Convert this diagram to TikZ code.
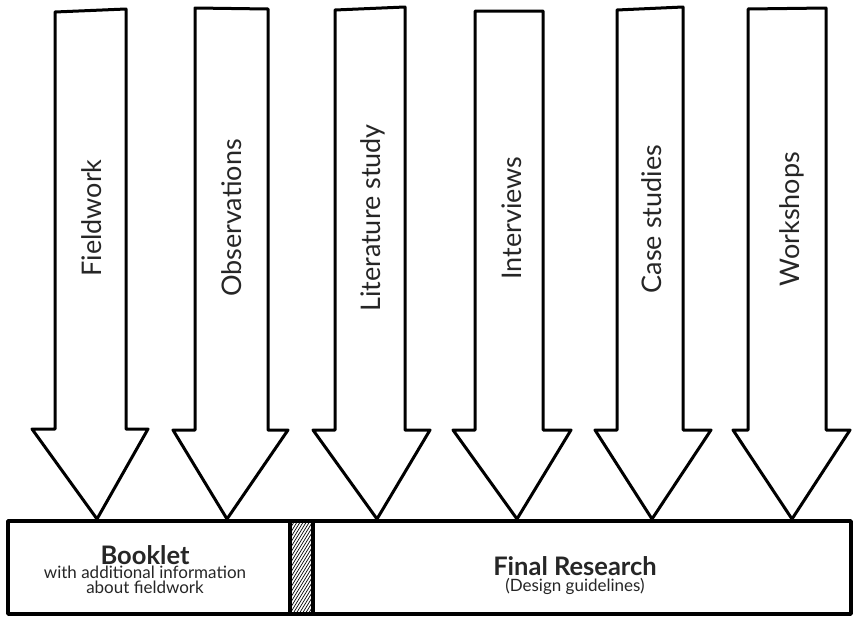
\documentclass[tikz,border=0pt]{standalone}
\usepackage{fontspec}
\setmainfont{Lato}
\begin{document}
\begin{tikzpicture}[x=1pt,y=-1pt,
  arrowline/.style={draw=black,line width=3pt,line join=round,line cap=round,fill=white},
  boxline/.style={draw=black,line width=3.5pt,line join=round},
  hatchline/.style={draw=black,line width=0.7pt},
  lbl/.style={rotate=90,font=\fontsize{27}{30}\selectfont,text=black!85,inner sep=0pt},
  boxtext/.style={text=black!85,inner sep=0pt,anchor=north,align=center}]
\useasboundingbox (0,0) rectangle (854,616);
\fill[white] (0,0) rectangle (854,616);

% arrows: L R Ttl Ttr S HL HR X
\foreach \L/\R/\Ta/\Tb/\S/\HL/\HR/\X/\n in {
  55/126/12/9/429/32/148/97/1,
  195/268/8/9/430/173/288/227/2,
  335/405/10/7/430/313/430/377/3,
  475/543/11/11/430/453/571/517/4,
  617/683/10/7/430/595/711/652/5,
  748/826/9/8/430/733/850/792/6}{
  \coordinate (tip\n) at (\X,519);
  \draw[arrowline] (\L,\S) -- (\L,\Ta) -- (\R,\Tb) -- (\R,\S) -- (\HR,\S) -- (tip\n) -- (\HL,\S) -- cycle;
}

% labels
\node[lbl] (l1) at (92,218) {Fieldwork};
\node[lbl] (l2) at (232,218) {Observations};
\node[lbl] (l3) at (373,218) {Literature study};
\node[lbl] (l4) at (512,218) {Interviews};
\node[lbl] (l5) at (652,219) {Case studies};
\node[lbl] (l6) at (792,219) {Workshops};

% hatched strip
\begin{scope}
  \clip (290,521) rectangle (313,614);
  \foreach \k in {0,...,36} \draw[hatchline] (286,500+\k*5) -- (318,500+\k*5-52);
\end{scope}

% boxes
\draw[boxline] (8,614) -- (8,521) -- (290,521) -- (290,614) -- cycle;
\draw[boxline] (313,614) -- (313,521) -- (851,521) -- (851,614) -- cycle;
\draw[boxline] (290,521) -- (313,521);
\draw[boxline] (290,614) -- (313,614);

% box texts
\node[boxtext,font=\fontsize{17}{14.5}\selectfont] (booklet) at (145,545)
  {{\bfseries\fontsize{25.5}{14.5}\selectfont Booklet}\\with additional information\\about fieldwork};
\node[boxtext,font=\fontsize{17}{16}\selectfont] (final) at (575,556)
  {{\bfseries\fontsize{25.5}{16}\selectfont Final Research}\\(Design guidelines)};
\end{tikzpicture}
\end{document}
